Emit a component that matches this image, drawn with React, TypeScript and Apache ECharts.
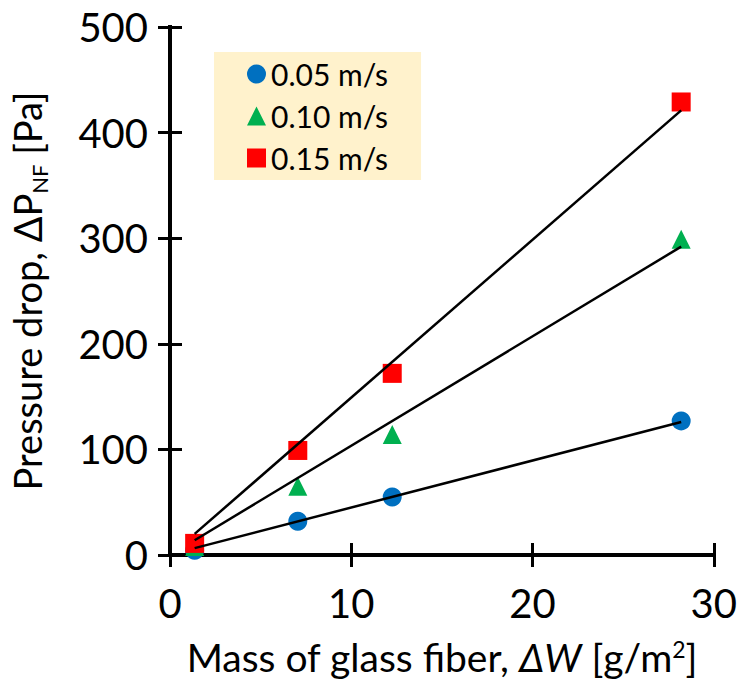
import React, { useEffect, useRef } from "react";
import * as echarts from "echarts";

const massX = [1.36, 7.05, 12.26, 28.2];
const dp005 = [4.5, 32, 55, 127];
const dp010 = [8, 65, 114, 299];
const dp015 = [11, 99, 172, 429];
const fitX = [1.36, 28.2];
const fit005 = [6.5, 126];
const fit010 = [14, 292];
const fit015 = [20, 421];
const seriesNames = ["0.05 m/s", "0.10 m/s", "0.15 m/s"];
const xTicks = [0, 10, 20, 30];
const yTicks = [0, 100, 200, 300, 400, 500];

const FONT = "Lato";

export default function App() {
  const ref = useRef<HTMLDivElement>(null);
  useEffect(() => {
    if (!ref.current) return;
    const chart = echarts.init(ref.current, null, { renderer: "svg" });
    const pts = (ys: number[]) => massX.map((x, i) => [x, ys[i]]);
    const fit = (ys: number[]) => fitX.map((x, i) => [x, ys[i]]);
    const axisLine = { show: true, lineStyle: { color: "#000", width: 4, cap: "square" } };
    const tick = { show: true, inside: true, length: 12, lineStyle: { color: "#000", width: 3 } };
    chart.setOption({
      animation: false,
      backgroundColor: "#fff",
      grid: { left: 165, right: 25, top: 27, bottom: 119, containLabel: false },
      legend: {
        orient: "vertical",
        left: 214,
        top: 52,
        data: seriesNames,
        itemWidth: 19,
        itemHeight: 19,
        itemGap: 12,
        backgroundColor: "#FFF2CC",
        padding: [7, 33, 7, 33],
        textStyle: { fontFamily: FONT, fontSize: 30, color: "#000" },
      },
      xAxis: [
        {
          type: "value",
          min: xTicks[0],
          max: xTicks[xTicks.length - 1],
          interval: 10,
          axisLine,
          axisTick: tick,
          splitLine: { show: false },
          axisLabel: { fontFamily: FONT, fontSize: 40, color: "#000", margin: 28 },
          name: "{n|Mass of glass fiber, }{i|ΔW}{n| [g/m}{s|2}{n|]}",
          nameLocation: "middle",
          nameGap: 82,
          nameTextStyle: {
            rich: {
              n: { fontFamily: FONT, fontSize: 39, color: "#000" },
              i: { fontFamily: FONT, fontSize: 39, color: "#000", fontStyle: "italic" },
              s: { fontFamily: FONT, fontSize: 23, color: "#000", verticalAlign: "top" },
            },
          },
        },
        {
          type: "value",
          position: "top",
          min: xTicks[0],
          max: xTicks[xTicks.length - 1],
          interval: 10,
          axisLine,
          axisTick: tick,
          splitLine: { show: false },
          axisLabel: { show: false },
        },
      ],
      yAxis: [
        {
          type: "value",
          min: yTicks[0],
          max: yTicks[yTicks.length - 1],
          interval: 100,
          axisLine,
          axisTick: tick,
          splitLine: { show: false },
          axisLabel: { fontFamily: FONT, fontSize: 40, color: "#000", margin: 22 },
          name: "{n|Pressure drop, ΔP}{s|NF}{n| [Pa]}",
          nameLocation: "middle",
          nameGap: 124,
          nameTextStyle: {
            rich: {
              n: { fontFamily: FONT, fontSize: 38, color: "#000" },
              s: { fontFamily: FONT, fontSize: 22, color: "#000", verticalAlign: "bottom", padding: [0, 0, -4, 0] },
            },
          },
        },
        {
          type: "value",
          position: "right",
          min: yTicks[0],
          max: yTicks[yTicks.length - 1],
          interval: 100,
          axisLine,
          axisTick: tick,
          splitLine: { show: false },
          axisLabel: { show: false },
        },
      ],
      series: [
        {
          name: seriesNames[0],
          type: "scatter",
          symbol: "circle",
          symbolSize: 19,
          itemStyle: { color: "#0070C0", opacity: 1 },
          data: pts(dp005),
          z: 2,
        },
        {
          name: seriesNames[1],
          type: "scatter",
          symbol: "triangle",
          symbolSize: 19,
          itemStyle: { color: "#00B050", opacity: 1 },
          data: pts(dp010),
          z: 2,
        },
        {
          name: seriesNames[2],
          type: "scatter",
          symbol: "rect",
          symbolSize: 19,
          itemStyle: { color: "#FF0000", opacity: 1 },
          data: pts(dp015),
          z: 2,
        },
        ...[fit005, fit010, fit015].map((f) => ({
          type: "line",
          data: fit(f),
          showSymbol: false,
          symbol: "none",
          lineStyle: { color: "#000", width: 2.5 },
          z: 5,
          silent: true,
        })),
      ],
    });
    return () => chart.dispose();
  }, []);
  return <div ref={ref} style={{ width: 740, height: 681, position: "absolute", left: 0, top: 0 }} />;
}
